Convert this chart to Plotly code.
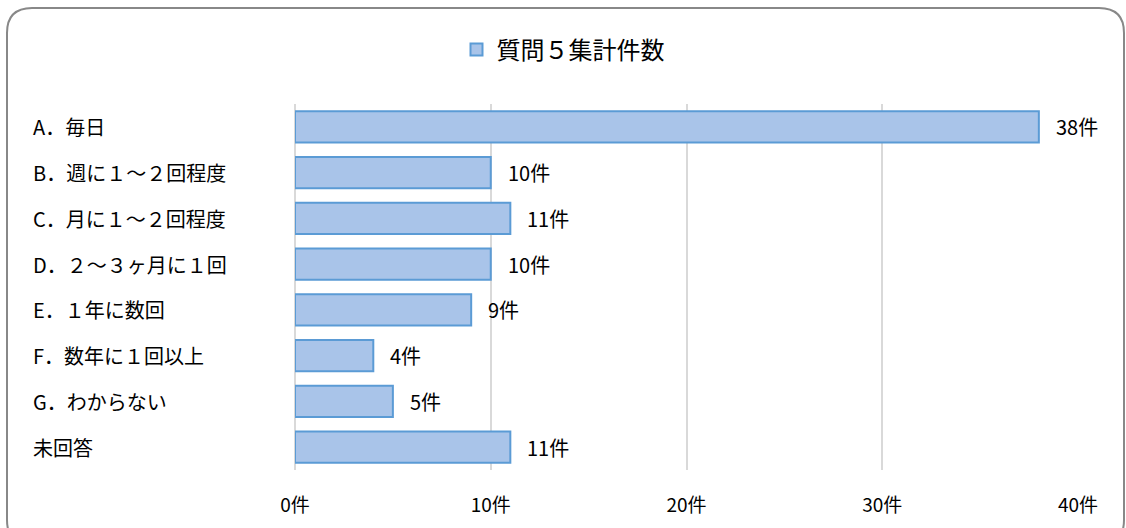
import plotly.graph_objects as go

categories = ["A．毎日", "B．週に１～２回程度", "C．月に１～２回程度", "D．２～３ヶ月に１回",
              "E．１年に数回", "F．数年に１回以上", "G．わからない", "未回答"]
values = [38, 10, 11, 10, 9, 4, 5, 11]
series_name = "質問５集計件数"
tick_vals = [0, 10, 20, 30, 40]
tick_text = ["0件", "10件", "20件", "30件", "40件"]
unit = "件"

W, H = 1126, 528
L, R, T, B = 295, 48, 104, 58
pw, ph = W - L - R, H - T - B

def px_x(p):
    return (p - L) / pw

def px_y(p):
    return (H - B - p) / ph

font = "Noto Sans CJK JP, Noto Sans, sans-serif"

fig = go.Figure()
fig.add_trace(go.Bar(
    x=values, y=categories, orientation="h", name=series_name,
    marker=dict(color="#a9c4e9", line=dict(color="#5b9bd5", width=2)),
    showlegend=True,
))

annotations = []
for c, v in zip(categories, values):
    annotations.append(dict(x=v, y=c, xref="x", yref="y", text=f"{v}{unit}",
                            showarrow=False, xanchor="left", xshift=15,
                            font=dict(size=20, color="#000000", family=font)))
    annotations.append(dict(x=px_x(31), y=c, xref="paper", yref="y", text=c,
                            showarrow=False, xanchor="left",
                            font=dict(size=20, color="#000000", family=font)))

# rounded chart border
x0, y0, x1, y1, r = px_x(7), px_y(8), px_x(1124), px_y(545), 25
rx, ry = r / pw, r / ph
path = (f"M {x0+rx},{y0} L {x1-rx},{y0} Q {x1},{y0} {x1},{y0-ry} "
        f"L {x1},{y1+ry} Q {x1},{y1} {x1-rx},{y1} L {x0+rx},{y1} "
        f"Q {x0},{y1} {x0},{y1+ry} L {x0},{y0-ry} Q {x0},{y0} {x0+rx},{y0} Z")

fig.update_layout(
    width=W, height=H,
    margin=dict(l=L, r=R, t=T, b=B, autoexpand=False),
    paper_bgcolor="white", plot_bgcolor="white",
    font=dict(family=font, size=20, color="#000000"),
    bargap=0.32,
    xaxis=dict(range=[0, 40], tickvals=tick_vals, ticktext=tick_text,
               showgrid=True, gridcolor="#d9d9d9", gridwidth=2,
               zeroline=True, zerolinecolor="#d9d9d9", zerolinewidth=2,
               showline=False, ticks="", ticklabelstandoff=22,
               tickfont=dict(size=19, family=font, color="#000000")),
    yaxis=dict(categoryorder="array", categoryarray=categories, autorange="reversed",
               showticklabels=False, showgrid=False, zeroline=False, showline=False, ticks=""),
    legend=dict(orientation="h", x=px_x(563), y=px_y(50), xanchor="center", yanchor="middle",
                font=dict(size=24, family=font, color="#000000"), itemwidth=30),
    annotations=annotations,
    shapes=[dict(type="path", xref="paper", yref="paper", path=path, layer="above",
                 line=dict(color="#888888", width=2), fillcolor="rgba(0,0,0,0)")],
)

fig.write_html("out.html", config={"displayModeBar": False},
               post_script="document.body.style.margin='0';document.body.style.padding='0';")
